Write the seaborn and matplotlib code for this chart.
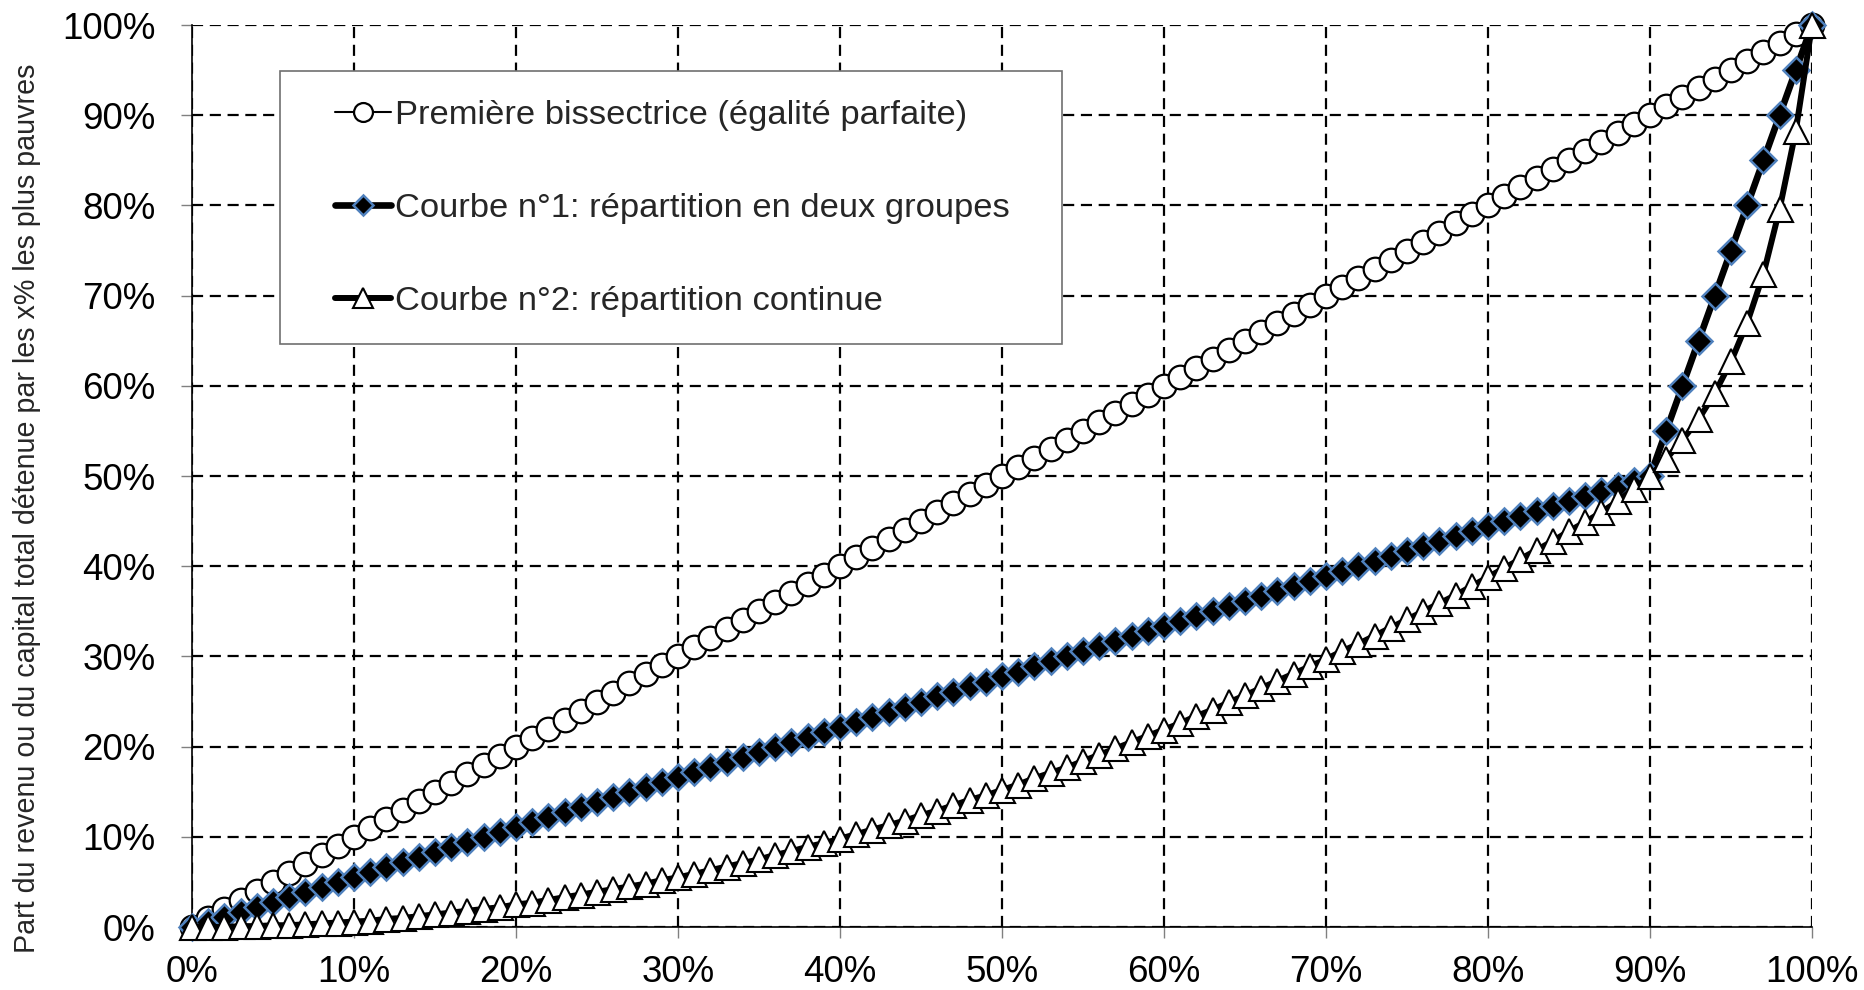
import numpy as np
import pandas as pd
import seaborn as sns
import matplotlib.pyplot as plt
from matplotlib.patches import Rectangle
from matplotlib.ticker import PercentFormatter, MultipleLocator

# part de la population (x% les plus pauvres)
population = [0, 1, 2, 3, 4, 5, 6, 7, 8, 9, 10, 11, 12, 13, 14, 15, 16, 17, 18, 19,
              20, 21, 22, 23, 24, 25, 26, 27, 28, 29, 30, 31, 32, 33, 34, 35, 36, 37, 38, 39,
              40, 41, 42, 43, 44, 45, 46, 47, 48, 49, 50, 51, 52, 53, 54, 55, 56, 57, 58, 59,
              60, 61, 62, 63, 64, 65, 66, 67, 68, 69, 70, 71, 72, 73, 74, 75, 76, 77, 78, 79,
              80, 81, 82, 83, 84, 85, 86, 87, 88, 89, 90, 91, 92, 93, 94, 95, 96, 97, 98, 99, 100]

bissectrice = [0, 1, 2, 3, 4, 5, 6, 7, 8, 9, 10, 11, 12, 13, 14, 15, 16, 17, 18, 19,
               20, 21, 22, 23, 24, 25, 26, 27, 28, 29, 30, 31, 32, 33, 34, 35, 36, 37, 38, 39,
               40, 41, 42, 43, 44, 45, 46, 47, 48, 49, 50, 51, 52, 53, 54, 55, 56, 57, 58, 59,
               60, 61, 62, 63, 64, 65, 66, 67, 68, 69, 70, 71, 72, 73, 74, 75, 76, 77, 78, 79,
               80, 81, 82, 83, 84, 85, 86, 87, 88, 89, 90, 91, 92, 93, 94, 95, 96, 97, 98, 99, 100]

courbe1 = [0.00, 0.56, 1.11, 1.67, 2.22, 2.78, 3.33, 3.89, 4.44, 5.00,
           5.56, 6.11, 6.67, 7.22, 7.78, 8.33, 8.89, 9.44, 10.00, 10.56,
           11.11, 11.67, 12.22, 12.78, 13.33, 13.89, 14.44, 15.00, 15.56, 16.11,
           16.67, 17.22, 17.78, 18.33, 18.89, 19.44, 20.00, 20.56, 21.11, 21.67,
           22.22, 22.78, 23.33, 23.89, 24.44, 25.00, 25.56, 26.11, 26.67, 27.22,
           27.78, 28.33, 28.89, 29.44, 30.00, 30.56, 31.11, 31.67, 32.22, 32.78,
           33.33, 33.89, 34.44, 35.00, 35.56, 36.11, 36.67, 37.22, 37.78, 38.33,
           38.89, 39.44, 40.00, 40.56, 41.11, 41.67, 42.22, 42.78, 43.33, 43.89,
           44.44, 45.00, 45.56, 46.11, 46.67, 47.22, 47.78, 48.33, 48.89, 49.44,
           50.00, 55.00, 60.00, 65.00, 70.00, 75.00, 80.00, 85.00, 90.00, 95.00, 100.00]

courbe2 = [0.0, 0.0, 0.0, 0.1, 0.1, 0.2, 0.2, 0.3, 0.4, 0.5,
           0.6, 0.7, 0.9, 1.0, 1.2, 1.4, 1.6, 1.8, 2.0, 2.2,
           2.5, 2.7, 3.0, 3.3, 3.6, 3.9, 4.2, 4.5, 4.8, 5.2,
           5.5, 5.9, 6.3, 6.7, 7.1, 7.5, 8.0, 8.4, 8.9, 9.3,
           9.8, 10.3, 10.8, 11.3, 11.8, 12.4, 12.9, 13.5, 14.1, 14.6,
           15.2, 15.8, 16.5, 17.1, 17.7, 18.4, 19.1, 19.8, 20.5, 21.2,
           21.9, 22.6, 23.4, 24.1, 24.9, 25.7, 26.5, 27.3, 28.1, 28.9,
           29.7, 30.6, 31.4, 32.3, 33.2, 34.1, 35.0, 35.9, 36.8, 37.8,
           38.8, 39.8, 40.8, 41.8, 42.8, 43.9, 44.9, 46.0, 47.2, 48.6,
           50.0, 51.9, 54.0, 56.3, 59.2, 62.7, 67.0, 72.4, 79.6, 88.3, 100.0]

labels = ["Première bissectrice (égalité parfaite)",
          "Courbe n°1: répartition en deux groupes",
          "Courbe n°2: répartition continue"]

df = pd.DataFrame({"x": population, "b": bissectrice, "c1": courbe1, "c2": courbe2})

sns.set_theme(style="white")
plt.rcParams["font.family"] = ["Liberation Sans", "DejaVu Sans"]

fig = plt.figure(figsize=(18.65, 9.9), dpi=100)
ax = fig.add_axes([0.1029, 0.0636, 0.8687, 0.9111])

sns.lineplot(data=df, x="x", y="b", ax=ax, color="black", linewidth=1.5,
             marker="o", markersize=17, markerfacecolor="white",
             markeredgecolor="black", markeredgewidth=1.6, label=labels[0],
             zorder=3, clip_on=False)
sns.lineplot(data=df, x="x", y="c1", ax=ax, color="black", linewidth=4.8,
             marker="D", markersize=13, markerfacecolor="black",
             markeredgecolor="#4F81BD", markeredgewidth=1.8, label=labels[1],
             zorder=4, clip_on=False)
sns.lineplot(data=df, x="x", y="c2", ax=ax, color="black", linewidth=4.3,
             marker="^", markersize=18, markerfacecolor="white",
             markeredgecolor="black", markeredgewidth=1.5, label=labels[2],
             zorder=5, clip_on=False)

ax.set_xlim(0, 100)
ax.set_ylim(0, 100)
ax.xaxis.set_major_locator(MultipleLocator(10))
ax.yaxis.set_major_locator(MultipleLocator(10))
ax.xaxis.set_major_formatter(PercentFormatter(100, decimals=0))
ax.yaxis.set_major_formatter(PercentFormatter(100, decimals=0))
ax.tick_params(axis="both", labelsize=26.5, colors="black", length=8, width=1,
               direction="out", bottom=True, left=True)
ax.tick_params(axis="both", color="#808080")
ax.tick_params(axis="y", pad=18)
ax.tick_params(axis="x", pad=12)

ax.grid(True, color="black", linestyle=(0, (5, 3)), linewidth=1.6)
ax.set_axisbelow(True)
for side in ["top", "right"]:
    ax.spines[side].set_visible(False)
for side in ["left", "bottom"]:
    ax.spines[side].set_color("black")
    ax.spines[side].set_linewidth(1.2)

ax.set_xlabel("")
ax.set_ylabel("Part du revenu ou du capital total détenue par les x% les plus pauvres",
              fontsize=20.6)
ax.yaxis.set_label_coords(-0.093, 0.4645)

# cadre de la légende
ax.add_patch(Rectangle((0.0543, 0.646), 0.4827, 0.303, transform=ax.transAxes,
                       facecolor="white", edgecolor="#707070", linewidth=1.2,
                       zorder=6, clip_on=False))
leg = ax.legend(loc="upper left", bbox_to_anchor=(0.0883, 0.917), frameon=False,
                fontsize=24.8, handlelength=1.63, handletextpad=0.1,
                labelspacing=1.79, markerscale=0.8, borderpad=0, borderaxespad=0)
leg.set_zorder(7)

fig.savefig("out.png", dpi=100)
